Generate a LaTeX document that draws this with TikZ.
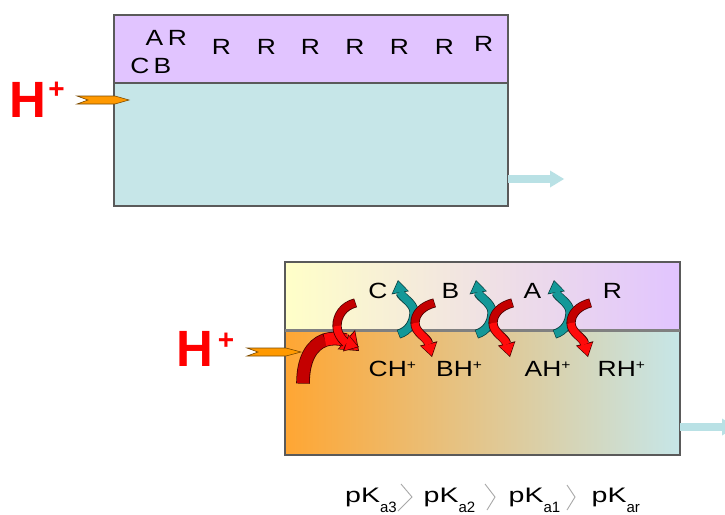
\documentclass[tikz,border=0pt]{standalone}
\usepackage{fontspec}
\usepackage{graphicx}
\setmainfont{Liberation Sans}
\usetikzlibrary{arrows.meta}
\definecolor{lav}{HTML}{E1C4FF}
\definecolor{tealbg}{HTML}{C6E6E8}
\definecolor{boxgray}{HTML}{5A5A5A}
\definecolor{divgray}{HTML}{808080}
\definecolor{hred}{HTML}{FF0000}
\definecolor{orangearr}{HTML}{FF9900}
\definecolor{orangeout}{HTML}{7A4A00}
\definecolor{outarr}{HTML}{B9E1E5}
\definecolor{redout}{HTML}{4A0000}
\definecolor{reddark}{HTML}{C40000}
\definecolor{redbright}{HTML}{FF0A0A}
\definecolor{tealarr}{HTML}{149898}
\definecolor{tealout}{HTML}{0A3F3F}
\definecolor{yellowbg}{HTML}{FFFFC8}
\definecolor{midtop}{HTML}{F1E3EA}
\definecolor{orangebg}{HTML}{FFA633}
\definecolor{midbot}{HTML}{EBC7B2}
\definecolor{chev}{HTML}{A8A8A8}
\newcommand{\stretchtxt}[1]{\scalebox{1.2}[1]{#1}}
\newcommand{\pkstretch}[1]{\scalebox{1.36}[1]{#1}}
\newcommand{\curvarr}[8]{%
  \draw[#1-out] #2 .. controls #3 and #4 .. #5 .. controls #6 and #7 .. #8;
  \draw[#1-a] #2 .. controls #3 and #4 .. #5;
  \draw[#1-b] #5 .. controls #6 and #7 .. #8;
}
\begin{document}
\begin{tikzpicture}[x=1pt,y=-1pt,
  boxline/.style={draw=boxgray, line width=1.3pt},
  lbl/.style={font=\fontsize{22}{22}\selectfont, inner sep=0pt, anchor=base},
  lblw/.style={font=\fontsize{22}{22}\selectfont, inner sep=0pt, anchor=base west},
  hp/.style={font=\fontsize{51}{51}\selectfont\bfseries, text=hred, inner sep=0pt, anchor=base west},
  plussign/.style={font=\fontsize{28}{28}\selectfont\bfseries, text=hred, inner sep=0pt},
  pk/.style={font=\fontsize{21}{21}\selectfont, inner sep=0pt, anchor=base west},
  orangechev/.style={fill=orangearr, draw=orangeout, line width=0.6pt, line join=miter},
  outflow/.style={draw=outarr, line width=8pt, -{Triangle[length=14pt,width=17pt,line width=0pt]}},
  chevline/.style={draw=chev, line width=0.9pt},
  red-out/.style={draw=redout, line width=9.2pt, shorten <=-0.6pt, -{Triangle[length=14pt,width=18pt,line width=0pt]}},
  red-a/.style={draw=reddark, line width=7.6pt},
  red-b/.style={draw=redbright, line width=7.6pt, shorten >=1.4pt, -{Triangle[length=11.6pt,width=15.4pt,line width=0pt]}},
  teal-out/.style={draw=tealout, line width=9.2pt, shorten <=-0.6pt, -{Triangle[length=13pt,width=17.6pt,line width=0pt]}},
  teal-a/.style={draw=tealarr, line width=7.6pt},
  teal-b/.style={draw=tealarr, line width=7.6pt, shorten >=1.4pt, -{Triangle[length=10.8pt,width=15pt,line width=0pt]}},
  big-out/.style={draw=redout, line width=13.6pt, shorten <=-0.6pt, -{Triangle[length=17pt,width=26pt,line width=0pt]}},
  big-a/.style={draw=reddark, line width=12pt},
  big-b/.style={draw=redbright, line width=12pt, shorten >=1.5pt, -{Triangle[length=14.6pt,width=23pt,line width=0pt]}}
]
\useasboundingbox (0,0) rectangle (725,514);
\fill[white] (0,0) rectangle (725,514);

% ---------- top box ----------
\fill[lav] (114,15) rectangle (508,83);
\fill[tealbg] (114,83) rectangle (508,206);
\draw[boxline] (114,15) rectangle (508,206);
\draw[boxline] (114,83) -- (508,83);
\draw[outflow] (508,179) -- (564,179);

\node[lbl] (tA) at (154.5,45.3) {\stretchtxt{A}};
\node[lbl] (tR0) at (177.5,45.3) {\stretchtxt{R}};
\node[lbl] (tC) at (140,73.3) {\stretchtxt{C}};
\node[lbl] (tB) at (162.5,73.3) {\stretchtxt{B}};
\node[lbl] (tR1) at (221.5,54.3) {\stretchtxt{R}};
\node[lbl] (tR2) at (266.5,54.3) {\stretchtxt{R}};
\node[lbl] (tR3) at (310.5,54.3) {\stretchtxt{R}};
\node[lbl] (tR4) at (355,54.3) {\stretchtxt{R}};
\node[lbl] (tR5) at (399.5,54.3) {\stretchtxt{R}};
\node[lbl] (tR6) at (444.5,54.3) {\stretchtxt{R}};
\node[lbl] (tR7) at (483.6,51.7) {\stretchtxt{R}};

\node[hp] (h1) at (9,117) {H};
\node[plussign] (p1) at (56.5,90.5) {+};
\draw[orangechev] (77,96) -- (115,96) -- (129,100) -- (115,104) -- (77,104) -- (88,100) -- cycle;

% ---------- bottom box ----------
\shade[left color=yellowbg, middle color=midtop, right color=lav] (285,262) rectangle (680,330);
\shade[left color=orangebg, middle color=midbot, right color=tealbg] (285,330) rectangle (680,455);
\draw[boxline] (285,262) rectangle (680,455);
\draw[draw=divgray, line width=3pt] (285,330) -- (680,330);
\draw[outflow] (680,427) -- (736,427);

\node[hp] (h2) at (176.3,366.7) {H};
\node[plussign] (p2) at (226,341) {+};
\draw[orangechev] (247,348) -- (286,348) -- (301,352) -- (286,356) -- (247,356) -- (258,352) -- cycle;

\node[lbl] (bC) at (378,298.3) {\stretchtxt{C}};
\node[lbl] (bB) at (450.5,298.3) {\stretchtxt{B}};
\node[lbl] (bA) at (532.5,298.3) {\stretchtxt{A}};
\node[lbl] (bR) at (612.5,298.3) {\stretchtxt{R}};
\node[lblw] (bCH) at (368.5,376.7) {\stretchtxt{CH\raisebox{7pt}{\fontsize{13}{13}\selectfont+}}};
\node[lblw] (bBH) at (436,376.7) {\stretchtxt{BH\raisebox{7pt}{\fontsize{13}{13}\selectfont+}}};
\node[lblw] (bAH) at (524.5,376.7) {\stretchtxt{AH\raisebox{7pt}{\fontsize{13}{13}\selectfont+}}};
\node[lblw] (bRH) at (597.5,376.7) {\stretchtxt{RH\raisebox{7pt}{\fontsize{13}{13}\selectfont+}}};

% curved arrows
\curvarr{big}{(303,383)}{(303,360)}{(311,345)}{(325,340)}{(338,336)}{(349,342)}{(359,351)}
\curvarr{red}{(355,303)}{(343,306)}{(337,316)}{(337,326)}{(337,336)}{(346,343)}{(359,347)}
\foreach \cx in {413,491,569}{
  \begin{scope}[xshift=\cx pt]
    \curvarr{teal}{(-14,334)}{(-4,331)}{(1,322)}{(1,312)}{(1,303)}{(-12,297)}{(-15,280)}
    \curvarr{red}{(21,303)}{(9,306)}{(2,314)}{(2,323)}{(2,333)}{(14,337)}{(19,357)}
  \end{scope}
}

% ---------- pK line ----------
\node[pk] (k1) at (345,502) {\pkstretch{pK}\raisebox{-10pt}{\fontsize{15}{15}\selectfont a3}};
\node[pk] (k2) at (423.5,502) {\pkstretch{pK}\raisebox{-10pt}{\fontsize{15}{15}\selectfont a2}};
\node[pk] (k3) at (508.5,502) {\pkstretch{pK}\raisebox{-10pt}{\fontsize{15}{15}\selectfont a1}};
\node[pk] (k4) at (591.5,502) {\pkstretch{pK}\raisebox{-10pt}{\fontsize{15}{15}\selectfont ar}};
\draw[chevline] (401,484) -- (412,497) -- (398,511);
\draw[chevline] (485,484) -- (495,497) -- (487,510);
\draw[chevline] (567,485) -- (575,497) -- (567,510);
\end{tikzpicture}
\end{document}
